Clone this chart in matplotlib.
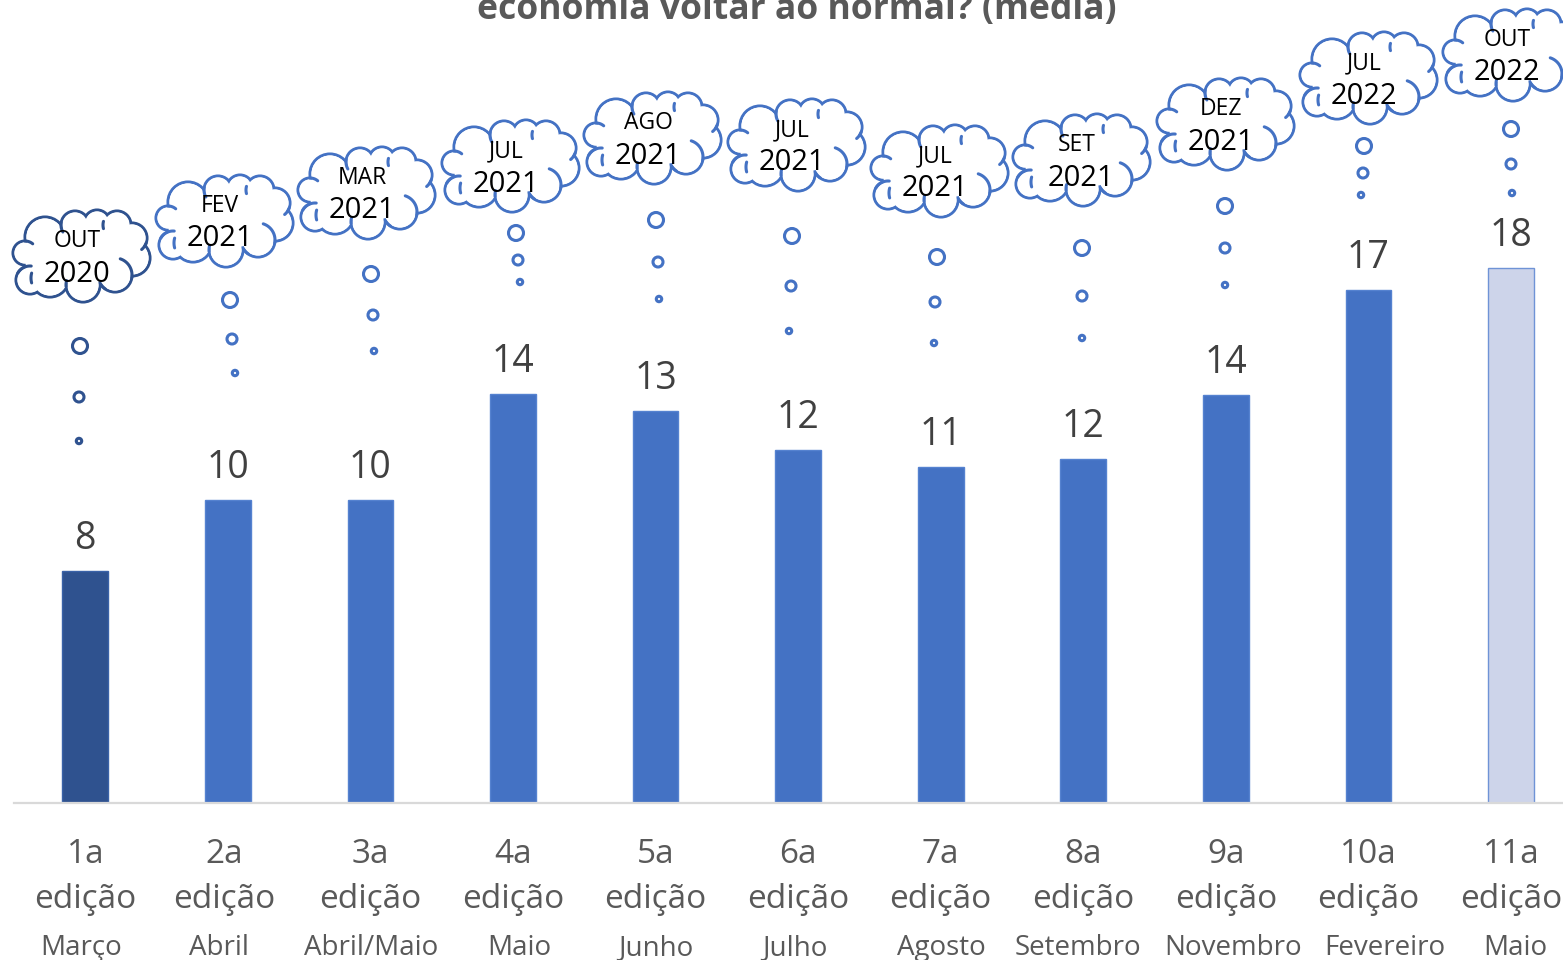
import numpy as np
import matplotlib
matplotlib.use('Agg')
import matplotlib.pyplot as plt
from matplotlib.patches import Circle, Polygon
from matplotlib.transforms import ScaledTranslation

plt.rcParams['font.family'] = ['Open Sans', 'DejaVu Sans']

# === DATA ===
editions = ['1a\nedição', '2a\nedição', '3a\nedição', '4a\nedição', '5a\nedição', '6a\nedição',
            '7a\nedição', '8a\nedição', '9a\nedição', '10a\nedição', '11a\nedição']
months = ['Março', 'Abril', 'Abril/Maio', 'Maio', 'Junho', 'Julho',
          'Agosto', 'Setembro', 'Novembro', 'Fevereiro', 'Maio']
values = [7.73, 10.1, 10.1, 13.63, 13.07, 11.77, 11.2, 11.47, 13.6, 17.1, 17.83]
value_labels = ['8', '10', '10', '14', '13', '12', '11', '12', '14', '17', '18']
cloud_months = ['OUT', 'FEV', 'MAR', 'JUL', 'AGO', 'JUL', 'JUL', 'SET', 'DEZ', 'JUL', 'OUT']
cloud_years = ['2020', '2021', '2021', '2021', '2021', '2021', '2021', '2021', '2021', '2022', '2022']

# === COLOURS ===
DARK = '#2F528F'
BLUE = '#4472C4'
PALE = '#CDD4EA'
bar_colors = [DARK] + [BLUE] * 9 + [PALE]
bar_edges = ['#3A62A8'] + ['#5582D0'] * 9 + ['#6F93D6']

# === LAYOUT (pixels of the picture) ===
W, H = 1563, 960
cloud_left = [13, 156, 298, 442, 584, 728, 871, 1013, 1157, 1300, 1443]
cloud_top = [210, 175, 147, 120, 92, 99, 125, 114, 78, 32, 9]
month_x = [81, 219, 371, 519, 656, 795, 941, 1078, 1233, 1385, 1515]
bubble_x = [[80, 79, 79], [230, 232, 235], [371, 373, 374], [516, 518, 520],
            [656, 658, 659], [792, 791, 789], [937, 935, 934], [1082, 1082, 1082],
            [1225, 1225, 1225], [1364, 1363, 1361], [1511, 1511, 1512]]
bubble_y = [[346, 397, 441], [300, 339, 373], [274, 315, 351], [233, 260, 282],
            [220, 262, 299], [236, 286, 331], [257, 302, 343], [248, 296, 338],
            [206, 248, 285], [146, 173, 195], [129, 164, 193]]
bubble_r = [7.5, 5, 2.7]

# lobes of the cloud outline: dx, dy, r from the cloud's top left corner
lobes = [(12, 43, 12), (32, 27, 20), (62, 15, 14), (84, 13, 13), (104, 15, 14),
         (119, 28, 15), (119, 48, 18), (102, 65, 17), (70, 75, 17), (37, 68, 19), (17, 70, 14)]
# short inner strokes: lobe index, start angle, end angle
hooks = [(7, -72, 10), (10, -150, -85), (0, -90, -50), (5, 20, 50),
         (2, 150, 190), (4, 165, 195), (9, 165, 195), (8, 175, 195), (7, 125, 150)]


def draw_cloud(ov, left, top, color):
    for dx, dy, r in lobes:
        ov.add_patch(Circle((left + dx, top + dy), r, fc='white', ec=color, lw=2.2, zorder=3))
    for dx, dy, r in lobes:
        ov.add_patch(Circle((left + dx, top + dy), r - 1.4, fc='white', ec='none', zorder=4))
    # wipes the parts of the circles that lie inside the cloud
    corners = [(left + dx, top + dy) for dx, dy, r in lobes]
    ov.add_patch(Polygon(corners, closed=True, fc='white', ec='white', lw=2, zorder=4))
    for i, a, b in hooks:
        dx, dy, r = lobes[i]
        t = np.radians(np.linspace(a, b, 20))
        ov.plot(left + dx + r * np.cos(t), top + dy + r * np.sin(t), color=color, lw=2.2,
                solid_capstyle='round', zorder=5)


# === FIGURE ===
fig = plt.figure(figsize=(W / 100, H / 100), dpi=100)
ax = fig.add_axes([14 / W, (H - 803) / H, (W - 14) / W, 803 / H])

x = np.arange(len(values))
ax.bar(x, values, width=0.32, color=bar_colors, edgecolor=bar_edges, linewidth=1)
for i, v in enumerate(values):
    ax.annotate(value_labels[i], (i, v), xytext=(0, 16), textcoords='offset points',
                ha='center', va='baseline', fontsize=27, color='#404040')

ax.set_xlim(-0.5, 10.365)
ax.set_ylim(0, 803 / 30)
ax.set_yticks([])
ax.set_xticks(x)
ax.set_xticklabels(editions, fontsize=24, color='#595959', linespacing=1.45)
ax.tick_params(axis='x', length=0, pad=25.5)
for s in ['top', 'left', 'right']:
    ax.spines[s].set_visible(False)
ax.spines['bottom'].set_color('#D9D9D9')
ax.spines['bottom'].set_linewidth(1.6)

# 2a edição sits a little left of its bar in the original
lab = ax.get_xticklabels()[1]
lab.set_transform(lab.get_transform() + ScaledTranslation(-4 / 100, 0, fig.dpi_scale_trans))

# === OVERLAY IN PIXELS: TITLE, MONTHS, CLOUDS ===
ov = fig.add_axes([0, 0, 1, 1], facecolor='none')
ov.set_xlim(0, W)
ov.set_ylim(H, 0)
ov.axis('off')

ov.text(797, 19, 'economia voltar ao normal? (média)', ha='center', va='baseline',
        fontsize=25.6, fontweight='bold', color='#595959', clip_on=False)

for mx, m in zip(month_x, months):
    ov.text(mx, 955, m, ha='center', va='baseline', fontsize=20, color='#595959')

for i in range(len(values)):
    color = DARK if i == 0 else BLUE
    draw_cloud(ov, cloud_left[i], cloud_top[i], color)
    ov.text(cloud_left[i] + 64, cloud_top[i] + 31, cloud_months[i], ha='center', va='center',
            fontsize=16.5, color='black', zorder=6)
    # the 8a cloud has its year a bit to the right
    year_x = cloud_left[i] + (68 if i == 7 else 64)
    ov.text(year_x, cloud_top[i] + 64, cloud_years[i], ha='center', va='center',
            fontsize=21, color='black', zorder=6)
    for bx, by, br in zip(bubble_x[i], bubble_y[i], bubble_r):
        ov.add_patch(Circle((bx, by), br, fc='white', ec=color, lw=2.2, zorder=3))

fig.savefig('out.png', dpi=100, facecolor='white')
